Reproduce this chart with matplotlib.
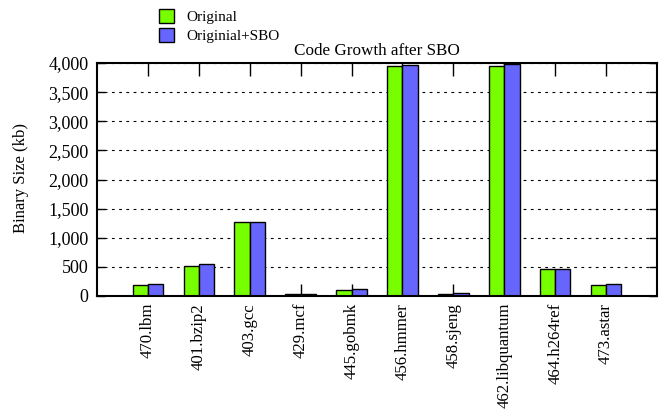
import matplotlib
matplotlib.use("Agg")
import matplotlib.pyplot as plt
import numpy as np
from matplotlib.ticker import FuncFormatter, MultipleLocator

benchmarks = ["470.lbm", "401.bzip2", "403.gcc", "429.mcf", "445.gobmk",
              "456.hmmer", "458.sjeng", "462.libquantum", "464.h264ref", "473.astar"]
original = [195, 510, 1264, 28, 103, 3953, 40, 3942, 458, 194]
original_sbo = [200, 544, 1270, 34, 125, 3965, 46, 3983, 463, 211]
series_names = ["Original", "Originial+SBO"]
colors = ["#77FF00", "#6666FF"]

plt.rcParams["font.family"] = ["Liberation Serif", "DejaVu Serif"]

fig = plt.figure(figsize=(6.61, 4.12), dpi=100)
ax = fig.add_axes([97 / 661, 1 - 296 / 412, 560 / 661, 233 / 412])

x = np.arange(len(benchmarks))
w = 0.3
bars = []
for i, (vals, c) in enumerate(zip([original, original_sbo], colors)):
    b = ax.bar(x + (i - 0.5) * w, vals, width=w, color=c, edgecolor="black",
               linewidth=1.0, zorder=3)
    bars.append(b)

ax.set_xlim(-1, len(benchmarks))
ax.set_ylim(0, 4000)
ax.yaxis.set_major_locator(MultipleLocator(500))
ax.yaxis.set_major_formatter(FuncFormatter(lambda v, p: f"{int(v):,}"))
ax.set_xticks(x)
ax.set_xticklabels(benchmarks, rotation=90, fontsize=12.1)
ax.tick_params(axis="y", labelsize=13, direction="in", length=6, width=1,
               right=True, pad=6)
ax.tick_params(axis="x", direction="in", length=9, width=1, top=True, pad=5)
ax.grid(axis="y", linestyle=(0, (2.5, 4)), color="black", linewidth=0.8, zorder=1)
for s in ax.spines.values():
    s.set_linewidth(1.5)
    s.set_zorder(4)

ax.set_ylabel("Binary Size (kb)", fontsize=12)
ax.yaxis.set_label_coords(-0.122, 0.505)
ax.set_title("Code Growth after SBO", fontsize=12.3, pad=6)

fig.legend(bars, series_names, loc="upper left", bbox_to_anchor=(150 / 661, 1.0),
           frameon=False, fontsize=11, handlelength=1.0, handleheight=1.0,
           handletextpad=0.8, labelspacing=0.25, borderaxespad=0.2)

fig.savefig("out.png", dpi=100)
